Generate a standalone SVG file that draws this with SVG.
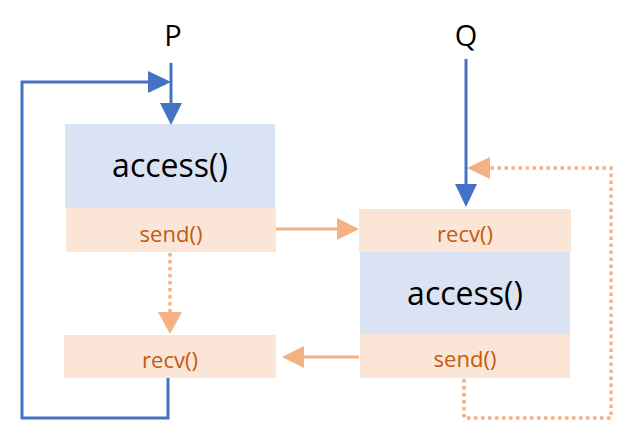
<svg xmlns="http://www.w3.org/2000/svg" width="634" height="439" viewBox="0 0 634 439">
<style>
.blue{fill:#dae3f3}
.org{fill:#fbe5d6}
.bl{stroke:#4472c4;stroke-width:3;fill:none}
.ol{stroke:#f4b183;stroke-width:3;fill:none}
.dot{stroke:#f4b183;stroke-width:3.5;fill:none;stroke-dasharray:3.5 3.5}
.bh{fill:#4472c4}
.oh{fill:#f4b183}
.big{font-family:"Open Sans",sans-serif;font-size:32px;fill:#000;text-anchor:middle}
.sm{font-family:"Open Sans",sans-serif;font-size:22px;fill:#c55a11;text-anchor:middle}
.lbl{font-family:"Open Sans",sans-serif;font-size:29px;fill:#000;text-anchor:middle}
</style>
<g id="label-P"><text class="lbl" x="173" y="46">P</text></g>
<g id="label-Q"><text class="lbl" x="466" y="46">Q</text></g>
<g id="p-access"><rect class="blue" x="65" y="124" width="210" height="84"/><text class="big" x="170" y="177">access()</text></g>
<g id="p-send"><rect class="org" x="66" y="208" width="210" height="44"/><text class="sm" x="171" y="242">send()</text></g>
<g id="p-recv"><rect class="org" x="64" y="335" width="212" height="43"/><text class="sm" x="170" y="368">recv()</text></g>
<g id="q-recv"><rect class="org" x="359" y="209" width="212" height="43"/><text class="sm" x="465" y="242">recv()</text></g>
<g id="q-access"><rect class="blue" x="360" y="252" width="210" height="82"/><text class="big" x="465" y="305">access()</text></g>
<g id="q-send"><rect class="org" x="360" y="334" width="210" height="44"/><text class="sm" x="465" y="367">send()</text></g>
<g id="connectors">
<polyline class="bl" points="168,378 168,418 22,418 22,82 150,82"/>
<polygon class="bh" points="148,71 171,82 148,93"/>
<line class="bl" x1="171" y1="63" x2="171" y2="104"/>
<polygon class="bh" points="160,103 182,103 171,125"/>
<line class="bl" x1="466" y1="59" x2="466" y2="186"/>
<polygon class="bh" points="455,184 477,184 466,207"/>
<line class="ol" x1="276" y1="229" x2="339" y2="229"/>
<polygon class="oh" points="337,218 359,229 337,240"/>
<line class="ol" x1="359" y1="357" x2="302" y2="357"/>
<polygon class="oh" points="304,346 282,357 304,368"/>
<line class="dot" x1="170" y1="253" x2="170" y2="313"/>
<polygon class="oh" points="158,312 182,312 170,334"/>
<polyline class="dot" points="464,379 464,418 611,418 611,168 489,168"/>
<polygon class="oh" points="490,157 467,168 490,179"/>
</g>
</svg>
